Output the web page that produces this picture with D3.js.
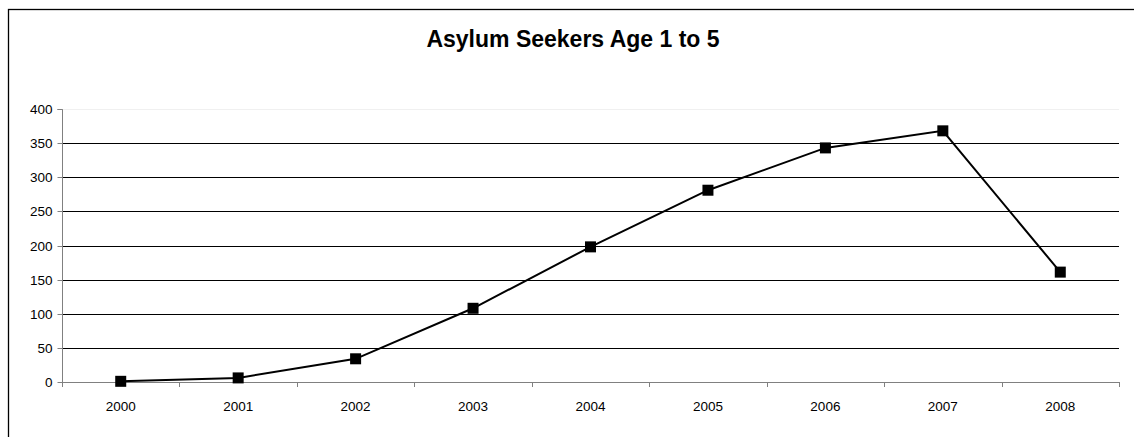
<!DOCTYPE html>
<html><head><meta charset="utf-8">
<script src="https://cdn.jsdelivr.net/npm/d3@7"></script>
<style>body{margin:0;background:#fff}svg{display:block}</style>
</head><body>
<script>
const years = ["2000","2001","2002","2003","2004","2005","2006","2007","2008"];
const seekers = [1, 6, 34, 108, 198, 281, 343, 368, 161];
const yTicks = [0,50,100,150,200,250,300,350,400];
const title = "Asylum Seekers Age 1 to 5";

const W=1134,H=437;
const svg=d3.select("body").append("svg").attr("width",W).attr("height",H);
const font="Liberation Sans, Arial, sans-serif";
svg.append("rect").attr("x",8.5).attr("y",9.5).attr("width",1300).attr("height",600)
  .attr("fill","none").attr("stroke","#000").attr("stroke-width",1.3);

const L=62,R=1119,T=109,B=382;
const x=d3.scaleBand().domain(years).range([L,R]);
const y=d3.scaleLinear().domain([0,400]).range([B,T]);

svg.append("text").attr("x",573).attr("y",47).attr("text-anchor","middle")
  .attr("font-family",font).attr("font-weight","bold").attr("font-size",23).text(title);

// gridlines
svg.append("g").selectAll("line").data(yTicks.filter(d=>d>0)).join("line")
  .attr("x1",L).attr("x2",R).attr("y1",d=>Math.round(y(d))+0.5).attr("y2",d=>Math.round(y(d))+0.5)
  .attr("stroke",d=>d===400?"#f0f0f0":"#000").attr("stroke-width",1);

// y axis
const ya=svg.append("g").attr("transform",`translate(${L+0.5},0.5)`)
  .call(d3.axisLeft(y).tickValues(yTicks).tickSize(5).tickPadding(5).tickFormat(d3.format("d")));
ya.select(".domain").attr("stroke","#808080").attr("d",`M-5,${Math.round(T)}H0V${Math.round(B)}`);
ya.selectAll(".tick line").attr("stroke","#808080");
ya.selectAll(".tick").attr("transform",d=>`translate(0,${Math.round(y(d))})`);
ya.selectAll("text").attr("font-family",font).attr("font-size",13.5).attr("fill","#000");

// x axis baseline and ticks at boundaries
const xb=svg.append("g");
xb.append("line").attr("x1",L).attr("x2",R).attr("y1",B+0.5).attr("y2",B+0.5).attr("stroke","#808080");
const bounds=years.map(d=>x(d)).concat([R]);
xb.selectAll("line.t").data(bounds).join("line").attr("class","t")
  .attr("x1",d=>Math.round(d)+0.5).attr("x2",d=>Math.round(d)+0.5).attr("y1",B).attr("y2",B+5).attr("stroke","#808080");
xb.selectAll("text").data(years).join("text")
  .attr("x",d=>x(d)+x.bandwidth()/2).attr("y",B+29).attr("text-anchor","middle")
  .attr("font-family",font).attr("font-size",13.5).text(d=>d);

// line
const cx=(d,i)=>x(years[i])+x.bandwidth()/2;
svg.append("path").datum(seekers)
  .attr("d",d3.line().x((d,i)=>cx(d,i)).y(d=>y(d)))
  .attr("fill","none").attr("stroke","#000").attr("stroke-width",2);
const s=11;
svg.append("g").selectAll("rect").data(seekers).join("rect")
  .attr("x",(d,i)=>cx(d,i)-s/2).attr("y",d=>y(d)-s/2).attr("width",s).attr("height",s).attr("fill","#000");
</script>
</body></html>
